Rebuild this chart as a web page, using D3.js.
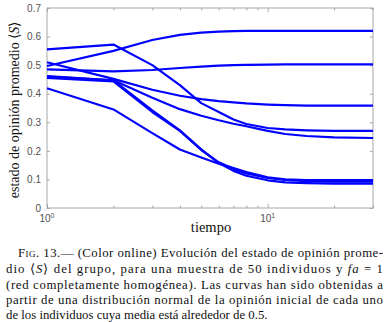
<!DOCTYPE html>
<html><head><meta charset="utf-8">
<script src="https://cdn.jsdelivr.net/npm/d3@7"></script>
<style>
html,body{margin:0;padding:0;background:#fff;}
svg{display:block;}
</style></head>
<body>
<svg id="c" width="389" height="322"></svg>
<script>
const times = [1,2,3,4,5,6,7,8,10,12,15,20,30];
const curveA = [0.555,0.572,0.500,0.430,0.367,0.336,0.310,0.294,0.280,0.275,0.272,0.270,0.270];
const curveB = [0.497,0.550,0.588,0.606,0.614,0.617,0.619,0.620,0.620,0.620,0.620,0.620,0.620];
const curveC = [0.485,0.478,0.483,0.490,0.495,0.498,0.500,0.501,0.502,0.503,0.503,0.503,0.503];
const curveD = [0.510,0.452,0.414,0.393,0.381,0.374,0.370,0.366,0.362,0.360,0.358,0.358,0.358];
const curveE = [0.460,0.447,0.386,0.346,0.323,0.307,0.295,0.286,0.270,0.259,0.252,0.247,0.245];
const curveF = [0.455,0.443,0.336,0.270,0.203,0.160,0.137,0.121,0.105,0.098,0.094,0.092,0.092];
const curveG = [0.419,0.345,0.262,0.205,0.177,0.155,0.140,0.126,0.107,0.100,0.098,0.098,0.098];
const curveH = [0.462,0.447,0.342,0.272,0.205,0.157,0.130,0.113,0.097,0.090,0.087,0.085,0.085];
const allCurves = [curveA,curveB,curveC,curveD,curveE,curveF,curveG,curveH];
const yTicks = [0,0.1,0.2,0.3,0.4,0.5,0.6,0.7];
const xMajor = [1,10];
const xMinor = [2,3,4,5,6,7,8,9,20,30];
const captionLines = [
  "Fig. 13.— (Color online) Evolución del estado de opinión prome-",
  "dio ⟨S⟩ del grupo, para una muestra de 50 individuos y fa = 1",
  "(red completamente homogénea). Las curvas han sido obtenidas a",
  "partir de una distribución normal de la opinión inicial de cada uno",
  "de los individuos cuya media está alrededor de 0.5."
];

const SERIF = '"Liberation Serif"';
const SANS = '"Liberation Sans"';
const svg = d3.select("#c");
const L=47, R=373, T=8, B=208;
const x = d3.scaleLog().domain([1,30]).range([L,R]);
const y = d3.scaleLinear().domain([0,0.7]).range([B,T]);
const axisCol = "#a8a8a8", labCol = "#505050";

svg.append("rect").attr("x",L).attr("y",T).attr("width",R-L).attr("height",B-T)
  .attr("fill","none").attr("stroke",axisCol).attr("stroke-width",1);

const yAx = d3.axisLeft(y).tickValues(yTicks).tickSize(-3).tickPadding(6)
  .tickFormat(d=>d===0?"0":d3.format(".1f")(d));
const gy = svg.append("g").attr("transform",`translate(${L},0)`).call(yAx);
const yAxR = d3.axisRight(y).tickValues(yTicks).tickSize(-3).tickFormat("");
const gyr = svg.append("g").attr("transform",`translate(${R},0)`).call(yAxR);
const xAx = d3.axisBottom(x).tickValues(xMajor.concat(xMinor)).tickSize(-3).tickFormat("");
const gx = svg.append("g").attr("transform",`translate(0,${B})`).call(xAx);
const xAxT = d3.axisTop(x).tickValues(xMajor.concat(xMinor)).tickSize(-3).tickFormat("");
const gxt = svg.append("g").attr("transform",`translate(0,${T})`).call(xAxT);
[gy,gyr,gx,gxt].forEach(g=>{
  g.select(".domain").remove();
  g.selectAll("line").attr("stroke",axisCol);
});
gx.selectAll(".tick line").attr("y2",d=>xMajor.includes(d)?-4:-2.5);
gxt.selectAll(".tick line").attr("y2",d=>xMajor.includes(d)?4:2.5);
gy.selectAll("text").attr("fill",labCol).style("font-family",SANS).style("font-size","10px");

xMajor.forEach(v=>{
  const t = svg.append("text").attr("x",x(v)).attr("y",B+14)
    .attr("text-anchor","middle").attr("fill",labCol)
    .style("font-family",SANS).style("font-size","10px");
  t.append("tspan").text("10");
  t.append("tspan").attr("dy",-4).style("font-size","7px").text(String(Math.round(Math.log10(v))));
});

const line = d3.line().x((d,i)=>x(times[i])).y(d=>y(d));
svg.append("g").selectAll("path").data(allCurves).join("path")
  .attr("d",line).attr("fill","none").attr("stroke","#0000ff")
  .attr("stroke-width",2.2).attr("stroke-linejoin","round");

svg.append("text").attr("x",211).attr("y",232).attr("text-anchor","middle")
  .style("font-family",SERIF).style("font-size","14.5px").attr("fill","#111").text("tiempo");
const yl = svg.append("text").attr("transform",`translate(19,${(T+B)/2+2}) rotate(-90)`)
  .attr("text-anchor","middle").style("font-family",SERIF).style("font-size","14px").attr("fill","#111");
yl.append("tspan").text("estado de opinión promedio ⟨");
yl.append("tspan").style("font-style","italic").text("S");
yl.append("tspan").text("⟩");

const capY = [257,273,288.5,304,319];
captionLines.forEach((s,i)=>{
  const x0 = i===0?18:6;
  const t = svg.append("text").attr("x",x0).attr("y",capY[i])
    .style("font-family",SERIF).style("font-size","12.8px").attr("fill","#111");
  if(i<4){ t.attr("textLength",383-x0).attr("lengthAdjust","spacing"); }
  if(i===0){
    t.append("tspan").style("font-variant","small-caps").text("Fig. 13.");
    t.append("tspan").text(s.slice(8));
  } else if(i===1){
    const a = s.indexOf("S"), b = s.indexOf("fa");
    t.append("tspan").text(s.slice(0,a));
    t.append("tspan").style("font-style","italic").text("S");
    t.append("tspan").text(s.slice(a+1,b));
    t.append("tspan").style("font-style","italic").text("fa");
    t.append("tspan").text(s.slice(b+2));
  } else {
    t.text(s);
  }
});
</script>
</body></html>
